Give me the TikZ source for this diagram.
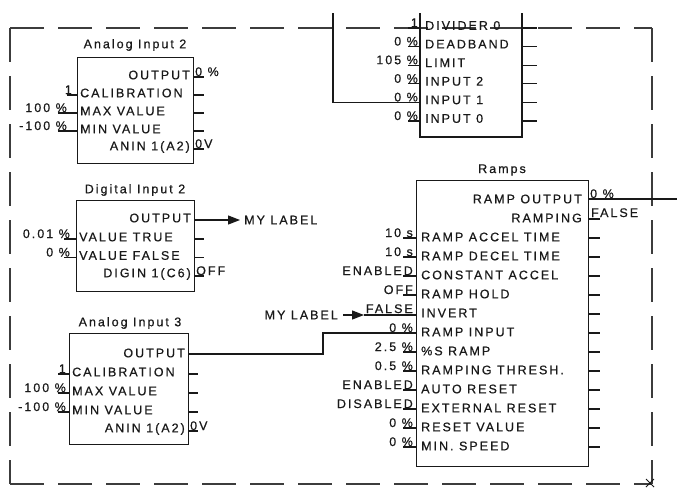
\documentclass[tikz,border=0pt]{standalone}
\usepackage{fontspec}
\setmainfont{Liberation Sans}[LetterSpace=16, FakeBold=0.6]
\usetikzlibrary{arrows.meta}
\definecolor{ink}{gray}{0.1}
\tikzset{
  txt/.style={font=\fontsize{12.5}{14}\selectfont, inner sep=0pt, text=ink},
  lt/.style={txt, anchor=west},
  rt/.style={txt, anchor=east},
  lv/.style={txt, anchor=base east},
  rv/.style={txt, anchor=base west},
  ttl/.style={txt},
  wire/.style={draw=ink, line width=1.2pt},
  frame/.style={draw=ink, line width=1.2pt, inner sep=0pt, anchor=north west},
  border/.style={draw=ink!85, line width=1.4pt, dash pattern=on 34pt off 14pt},
  tip/.style={-{Triangle[length=12pt,width=9pt]}},
}
\begin{document}
\begin{tikzpicture}[x=1pt,y=-1pt]
\useasboundingbox (0,0) rectangle (677,488);

% dashed border
\draw[border] (10,28) -- (652,28);
\draw[border] (10,28) -- (10,484);
\draw[border] (10,484) -- (652,484);
\draw[border] (652,28) -- (652,484);
\draw[draw=ink, line width=0.8pt] (646,479) -- (654,487) (646,487) -- (654,479);

% ---------- top block (cut off) ----------
\draw[wire] (420,13) -- (420,137) -- (522,137) -- (522,13);
\foreach \i/\t in {0/DIVIDER 0, 1/DEADBAND, 2/LIMIT, 3/INPUT 2, 4/INPUT 1, 5/INPUT 0}
  \node[lt] (dv\i) at (425,{25.5+18.6*\i}) {\t};
\foreach \i in {0,...,5}
  \draw[wire] (522,{28+18.6*\i}) -- (537,{28+18.6*\i});
\foreach \i in {0,1,2,3,5}
  \draw[wire] (408,{28+18.6*\i}) -- (420,{28+18.6*\i});
\foreach \i/\v in {0/1, 1/0 \%, 2/105 \%, 3/0 \%, 4/0 \%, 5/0 \%}
  \node[lv] (dvv\i) at (418,{27+18.6*\i}) {\v};
\coordinate (topin) at (333,13);
\coordinate (dvin1) at (420,102.4);
\draw[wire] (topin) |- (dvin1);

% ---------- Analog Input 2 ----------
\node[frame, minimum width=116pt, minimum height=106pt] (ai2) at (77,57) {};
\node[ttl] (ai2t) at (135,45) {Analog Input 2};
\node[rt] (ai2o) at (190,75) {OUTPUT};
\node[lt] (ai2c) at (80,93) {CALIBRATION};
\node[lt] (ai2x) at (80,111) {MAX VALUE};
\node[lt] (ai2n) at (80,129) {MIN VALUE};
\node[rt] (ai2a) at (190,147) {ANIN 1(A2)};
\foreach \y in {77,95,113,131,149}
  \draw[wire] (193,\y) -- (204,\y);
\draw[wire] (67,95) -- (77,95);
\foreach \y in {113,131}
  \draw[wire] (58,\y) -- (77,\y);
\node[lv] (ai2cv) at (72,94) {1};
\node[lv] (ai2xv) at (67,112) {100 \%};
\node[lv] (ai2nv) at (67,130) {-100 \%};
\node[rv] (ai2ov) at (195,76) {0 \%};
\node[rv] (ai2av) at (195,148) {0V};

% ---------- Digital Input 2 ----------
\node[frame, minimum width=118pt, minimum height=91pt] (di2) at (76,200) {};
\node[ttl] (di2t) at (135,190) {Digital Input 2};
\node[rt] (di2o) at (191,218) {OUTPUT};
\node[lt] (di2t1) at (79,237) {VALUE TRUE};
\node[lt] (di2f) at (79,255.5) {VALUE FALSE};
\node[rt] (di2d) at (191,274) {DIGIN 1(C6)};
\foreach \y in {239,257.5,276}
  \draw[wire] (194,\y) -- (204,\y);
\foreach \y in {239,257.5}
  \draw[wire] (64,\y) -- (76,\y);
\node[lv] (di2tv) at (70,238) {0.01 \%};
\node[lv] (di2fv) at (70,256.5) {0 \%};
\node[rv] (di2dv) at (196,275) {OFF};
\coordinate (di2out) at (194,220);
\coordinate (lbl1tip) at (240,220);
\draw[wire, tip] (di2out) -- (lbl1tip);
\node[lt] (lbl1) at (244,220) {MY LABEL};

% ---------- Analog Input 3 ----------
\node[frame, minimum width=119pt, minimum height=111pt] (ai3) at (69,333) {};
\node[ttl] (ai3t) at (130,323) {Analog Input 3};
\node[rt] (ai3o) at (185,353) {OUTPUT};
\node[lt] (ai3c) at (72,372) {CALIBRATION};
\node[lt] (ai3x) at (72,391) {MAX VALUE};
\node[lt] (ai3n) at (72,410) {MIN VALUE};
\node[rt] (ai3a) at (185,429) {ANIN 1(A2)};
\foreach \y in {374,393,412,431}
  \draw[wire] (188,\y) -- (198,\y);
\foreach \y in {374,393,412}
  \draw[wire] (58,\y) -- (69,\y);
\node[lv] (ai3cv) at (66,373) {1};
\node[lv] (ai3xv) at (66,392) {100 \%};
\node[lv] (ai3nv) at (66,411) {-100 \%};
\node[rv] (ai3av) at (190,430) {0V};

% ---------- Ramps ----------
\node[frame, minimum width=172pt, minimum height=286pt] (rp) at (416,180) {};
\node[ttl] (rpt) at (502,170) {Ramps};
\node[rt] (rp0) at (582,199) {RAMP OUTPUT};
\node[rt] (rp1) at (582,218) {RAMPING};
\foreach \i/\t in {2/RAMP ACCEL TIME, 3/RAMP DECEL TIME, 4/CONSTANT ACCEL, 5/RAMP HOLD, 6/INVERT, 7/RAMP INPUT, 8/\%S RAMP, 9/RAMPING THRESH., 10/AUTO RESET, 11/EXTERNAL RESET, 12/RESET VALUE, 13/MIN. SPEED}
  \node[lt] (rp\i) at (421,{199+19*\i}) {\t};
\foreach \i in {1,...,13}
  \draw[wire] (588,{200+19*\i}) -- (600,{200+19*\i});
\foreach \i in {2,3,4,5,8,9,10,11,12,13}
  \draw[wire] (403,{200+19*\i}) -- (416,{200+19*\i});
\foreach \i/\v in {2/10 s, 3/10 s, 4/ENABLED, 5/OFF, 6/FALSE, 7/0 \%, 8/2.5 \%, 9/0.5 \%, 10/ENABLED, 11/DISABLED, 12/0 \%, 13/0 \%}
  \node[lv] (rpv\i) at (413,{199+19*\i}) {\v};
\node[rv] (rpv0) at (590,198) {0 \%};
\node[rv] (rpv1) at (591,217) {FALSE};
\coordinate (rpout) at (588,199);
\coordinate (rpoutend) at (677,199);
\draw[wire] (rpout) -- (rpoutend);

% connectors into Ramps
\coordinate (ai3out) at (188,354);
\coordinate (rpin) at (416,333);
\draw[wire] (ai3out) -- (323,354) -- (323,333) -- (rpin);
\node[rt] (lbl2) at (338,315) {MY LABEL};
\coordinate (lbl2tip) at (364,315);
\coordinate (rpinv) at (416,315);
\draw[wire, tip] (343,315) -- (lbl2tip);
\draw[wire] (lbl2tip) -- (rpinv);
\end{tikzpicture}
\end{document}
